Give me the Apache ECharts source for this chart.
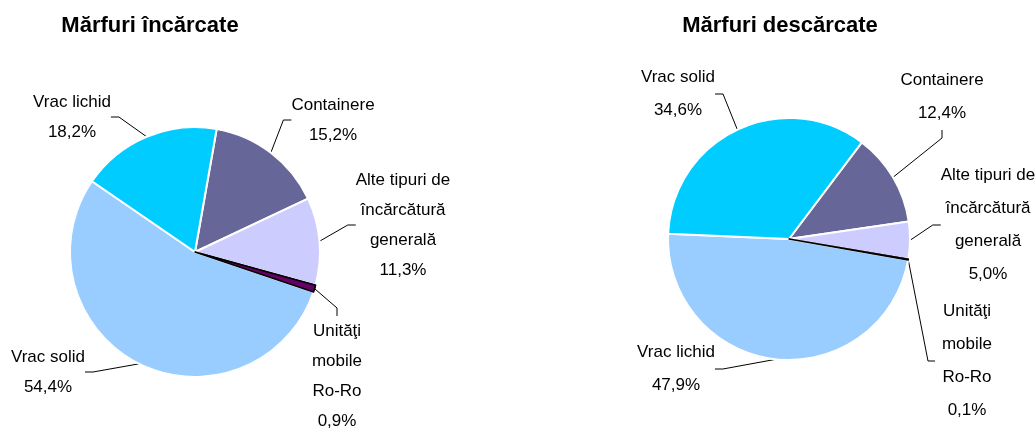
<!DOCTYPE html>
<html>
<head>
<meta charset="utf-8">
<script src="https://cdn.jsdelivr.net/npm/echarts@6/dist/echarts.min.js"></script>
<style>
  html, body { margin: 0; padding: 0; background: #fff; }
  #chart { width: 1036px; height: 430px; }
</style>
</head>
<body>
<div id="chart"></div>
<script>
const titles = ['Mărfuri încărcate', 'Mărfuri descărcate']

const loadedNames = ['Containere', 'Alte tipuri de\nîncărcătură\ngenerală', 'Unităţi\nmobile\nRo-Ro', 'Vrac solid', 'Vrac lichid']
const loadedValues = [15.2, 11.3, 0.9, 54.4, 18.2]

const unloadedNames = ['Containere', 'Alte tipuri de\nîncărcătură\ngenerală', 'Unităţi\nmobile\nRo-Ro', 'Vrac lichid', 'Vrac solid']
const unloadedValues = [12.4, 5.0, 0.1, 47.9, 34.6]

// colours go by slice order, not by category
const sliceColors = ['#666699', '#CCCCFF', '#660066', '#99CCFF', '#00CCFF']

// where each label block is centred
const labelPosLeft = [[333, 120], [403, 225], [337, 376], [48, 372], [72, 117]]
const labelPosRight = [[942, 97], [988, 225], [967, 361], [676, 369], [678, 94]]

const fontFamily = '"Liberation Sans", Arial, sans-serif'

function pct(v) {
    return v.toFixed(1).replace('.', ',') + '%'
}

function makeData(names, values, overlay) {
    return names.map(function (n, i) {
        const isRoRo = i === 2
        let style
        if (overlay) {
            style = isRoRo
                ? { color: sliceColors[i], borderColor: '#000', borderWidth: 1.5 }
                : { color: 'rgba(0,0,0,0)', borderWidth: 0 }
        } else {
            style = isRoRo
                ? { color: sliceColors[i], borderColor: '#000', borderWidth: 1.5 }
                : { color: sliceColors[i], borderColor: '#fff', borderWidth: 2 }
        }
        return { name: n, value: values[i], itemStyle: style }
    })
}

function pieSeries(names, values, center, radius, startAngle, labelPos, lineHeight, sideLeader) {
    return {
        type: 'pie',
        center: center,
        radius: radius,
        startAngle: startAngle,
        clockwise: true,
        avoidLabelOverlap: false,
        emphasis: { disabled: true },
        data: makeData(names, values, false),
        label: {
            show: true,
            color: '#000',
            fontFamily: fontFamily,
            fontSize: 17,
            lineHeight: lineHeight,
            align: 'center',
            formatter: function (p) {
                return p.name + '\n' + pct(p.value)
            }
        },
        labelLine: {
            show: true,
            length: 8,
            length2: 8,
            lineStyle: { color: '#000', width: 1 }
        },
        labelLayout: function (p) {
            const pos = labelPos[p.dataIndex]
            const out = { x: pos[0], y: pos[1], align: 'center', verticalAlign: 'middle' }
            // the tiny Ro-Ro slice on the right gets its leader from the side
            if (sideLeader && p.dataIndex === 2 && p.labelLinePoints) {
                const start = p.labelLinePoints[0]
                out.labelLinePoints = [start, [pos[0] - 39, pos[1]], [pos[0] - 32, pos[1]]]
            }
            return out
        }
    }
}

function overlaySeries(names, values, center, radius, startAngle) {
    return {
        type: 'pie',
        center: center,
        radius: radius,
        startAngle: startAngle,
        clockwise: true,
        silent: true,
        z: 3,
        emphasis: { disabled: true },
        label: { show: false },
        labelLine: { show: false },
        data: makeData(names, values, true)
    }
}

const myChart = echarts.init(document.getElementById('chart'))

const option = {
    backgroundColor: '#fff',
    animation: false,
    title: [
        {
            text: titles[0],
            left: 145,
            top: 10,
            textAlign: 'center',
            textStyle: { fontFamily: fontFamily, fontSize: 22, fontWeight: 'bold', color: '#000' }
        },
        {
            text: titles[1],
            left: 775,
            top: 10,
            textAlign: 'center',
            textStyle: { fontFamily: fontFamily, fontSize: 22, fontWeight: 'bold', color: '#000' }
        }
    ],
    series: [
        pieSeries(loadedNames, loadedValues, [195, 252], 125, 80, labelPosLeft, 30, false),
        pieSeries(unloadedNames, unloadedValues, [789, 239], 121, 53, labelPosRight, 33, true),
        overlaySeries(loadedNames, loadedValues, [195, 252], 125, 80),
        overlaySeries(unloadedNames, unloadedValues, [789, 239], 121, 53)
    ]
}

myChart.setOption(option)
</script>
</body>
</html>
